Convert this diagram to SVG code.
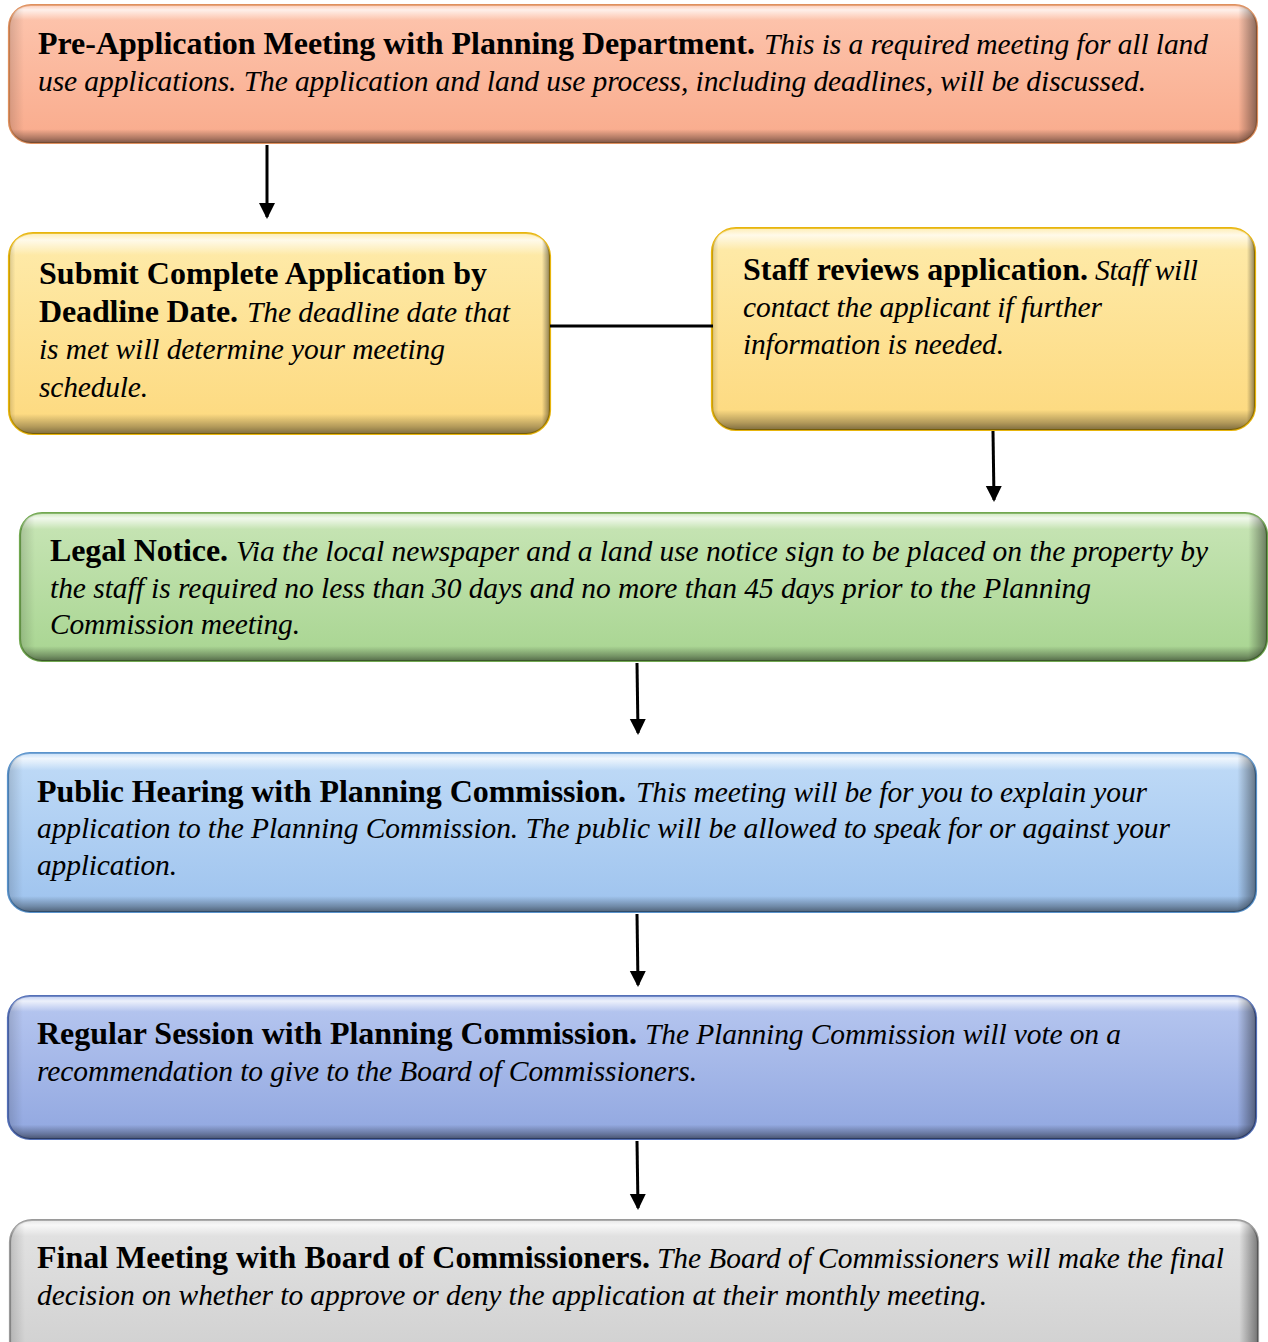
<svg xmlns="http://www.w3.org/2000/svg" width="1268" height="1342" viewBox="0 0 1268 1342">
<style>
text{font-family:"Liberation Serif","Times New Roman",serif;fill:#000}
.b{font-weight:bold;font-size:32px}
.i{font-style:italic;font-size:29.5px}
.box{stroke-width:2.2}
.bev{stroke:none}
.con{stroke:#000;stroke-width:3;fill:none}
</style>
<defs>
<linearGradient id="g1" x1="0" y1="0" x2="0" y2="1"><stop offset="0" stop-color="#fdc5ae"/><stop offset="1" stop-color="#f9ab8c"/></linearGradient>
<linearGradient id="g2" x1="0" y1="0" x2="0" y2="1"><stop offset="0" stop-color="#feebab"/><stop offset="1" stop-color="#fdd97e"/></linearGradient>
<linearGradient id="g4" x1="0" y1="0" x2="0" y2="1"><stop offset="0" stop-color="#c8e5b6"/><stop offset="1" stop-color="#a8d591"/></linearGradient>
<linearGradient id="g5" x1="0" y1="0" x2="0" y2="1"><stop offset="0" stop-color="#c0dbf7"/><stop offset="1" stop-color="#9ec3ee"/></linearGradient>
<linearGradient id="g6" x1="0" y1="0" x2="0" y2="1"><stop offset="0" stop-color="#b7c7f0"/><stop offset="1" stop-color="#91a7e0"/></linearGradient>
<linearGradient id="g7" x1="0" y1="0" x2="0" y2="1"><stop offset="0" stop-color="#e3e3e3"/><stop offset="1" stop-color="#cfcfcf"/></linearGradient>
<linearGradient id="bv" x1="0" y1="0" x2="0" y2="1">
<stop offset="0" stop-color="#fff" stop-opacity="0.1"/>
<stop offset="0.035" stop-color="#fff" stop-opacity="0.75"/>
<stop offset="0.11" stop-color="#fff" stop-opacity="0"/>
<stop offset="0.9" stop-color="#000" stop-opacity="0"/>
<stop offset="0.965" stop-color="#000" stop-opacity="0.3"/>
<stop offset="1" stop-color="#000" stop-opacity="0.5"/>
</linearGradient>
<linearGradient id="bh" x1="0" y1="0" x2="1" y2="0">
<stop offset="0" stop-color="#000" stop-opacity="0.15"/>
<stop offset="0.012" stop-color="#000" stop-opacity="0"/>
<stop offset="0.985" stop-color="#000" stop-opacity="0"/>
<stop offset="1" stop-color="#000" stop-opacity="0.45"/>
</linearGradient>
<marker id="ah" markerUnits="userSpaceOnUse" markerWidth="18" markerHeight="18" refX="14" refY="8" orient="auto">
<path d="M0,0 L16,8 L0,16 z" fill="#000"/>
</marker>
</defs>

<g id="n1">
<rect class="box" x="9" y="5" width="1248" height="138" rx="22" fill="url(#g1)" stroke="#e0905e"/>
<rect class="bev" x="9" y="5" width="1248" height="138" rx="22" fill="url(#bv)"/>
<rect class="bev" x="9" y="5" width="1248" height="138" rx="22" fill="url(#bh)"/>
<text class="b" x="38" y="54" textLength="717">Pre-Application Meeting with Planning Department.</text>
<text class="i" x="764" y="54" textLength="444">This is a required meeting for all land</text>
<text class="i" x="38" y="91" textLength="1108">use applications. The application and land use process, including deadlines, will be discussed.</text>
</g>

<g id="n2">
<rect class="box" x="9" y="233" width="541" height="201" rx="24" fill="url(#g2)" stroke="#e8b50c"/>
<rect class="bev" x="9" y="233" width="541" height="201" rx="24" fill="url(#bv)"/>
<rect class="bev" x="9" y="233" width="541" height="201" rx="24" fill="url(#bh)"/>
<text class="b" x="39" y="284" textLength="448">Submit Complete Application by</text>
<text class="b" x="39" y="322" textLength="199">Deadline Date.</text>
<text class="i" x="247" y="322" textLength="263">The deadline date that</text>
<text class="i" x="39" y="359" textLength="406">is met will determine your meeting</text>
<text class="i" x="39" y="397" textLength="109">schedule.</text>
</g>

<g id="n3">
<rect class="box" x="712" y="228" width="543" height="202" rx="24" fill="url(#g2)" stroke="#e8b50c"/>
<rect class="bev" x="712" y="228" width="543" height="202" rx="24" fill="url(#bv)"/>
<rect class="bev" x="712" y="228" width="543" height="202" rx="24" fill="url(#bh)"/>
<text class="b" x="743" y="280" textLength="345">Staff reviews application.</text>
<text class="i" x="1095" y="280" textLength="103">Staff will</text>
<text class="i" x="743" y="317" textLength="359">contact the applicant if further</text>
<text class="i" x="743" y="354" textLength="261">information is needed.</text>
</g>

<g id="n4">
<rect class="box" x="20" y="513" width="1247" height="148" rx="22" fill="url(#g4)" stroke="#71a850"/>
<rect class="bev" x="20" y="513" width="1247" height="148" rx="22" fill="url(#bv)"/>
<rect class="bev" x="20" y="513" width="1247" height="148" rx="22" fill="url(#bh)"/>
<text class="b" x="50" y="561" textLength="178">Legal Notice.</text>
<text class="i" x="236" y="561" textLength="972">Via the local newspaper and a land use notice sign to be placed on the property by</text>
<text class="i" x="50" y="598" textLength="1041">the staff is required no less than 30 days and no more than 45 days prior to the Planning</text>
<text class="i" x="50" y="634" textLength="250">Commission meeting.</text>
</g>

<g id="n5">
<rect class="box" x="8" y="753" width="1248" height="159" rx="22" fill="url(#g5)" stroke="#5a93cc"/>
<rect class="bev" x="8" y="753" width="1248" height="159" rx="22" fill="url(#bv)"/>
<rect class="bev" x="8" y="753" width="1248" height="159" rx="22" fill="url(#bh)"/>
<text class="b" x="37" y="802" textLength="589">Public Hearing with Planning Commission.</text>
<text class="i" x="636" y="802" textLength="511">This meeting will be for you to explain your</text>
<text class="i" x="37" y="838" textLength="1133">application to the Planning Commission. The public will be allowed to speak for or against your</text>
<text class="i" x="37" y="875" textLength="140">application.</text>
</g>

<g id="n6">
<rect class="box" x="8" y="996" width="1248" height="143" rx="22" fill="url(#g6)" stroke="#5470b8"/>
<rect class="bev" x="8" y="996" width="1248" height="143" rx="22" fill="url(#bv)"/>
<rect class="bev" x="8" y="996" width="1248" height="143" rx="22" fill="url(#bh)"/>
<text class="b" x="37" y="1044" textLength="600">Regular Session with Planning Commission.</text>
<text class="i" x="645" y="1044" textLength="476">The Planning Commission will vote on a</text>
<text class="i" x="37" y="1081" textLength="660">recommendation to give to the Board of Commissioners.</text>
</g>

<g id="n7">
<rect class="box" x="10" y="1220" width="1248" height="145" rx="22" fill="url(#g7)" stroke="#9a9a9a"/>
<rect class="bev" x="10" y="1220" width="1248" height="145" rx="22" fill="url(#bv)"/>
<rect class="bev" x="10" y="1220" width="1248" height="145" rx="22" fill="url(#bh)"/>
<text class="b" x="37" y="1268" textLength="613">Final Meeting with Board of Commissioners.</text>
<text class="i" x="657" y="1268" textLength="567">The Board of Commissioners will make the final</text>
<text class="i" x="37" y="1305" textLength="950">decision on whether to approve or deny the application at their monthly meeting.</text>
</g>

<g id="connectors">
<line class="con" x1="267" y1="145" x2="267" y2="217" marker-end="url(#ah)"/>
<line class="con" x1="550" y1="326" x2="713" y2="326"/>
<line class="con" x1="993" y1="431" x2="994" y2="500" marker-end="url(#ah)"/>
<line class="con" x1="637" y1="663" x2="638" y2="733" marker-end="url(#ah)"/>
<line class="con" x1="637" y1="914" x2="638" y2="985" marker-end="url(#ah)"/>
<line class="con" x1="637" y1="1141" x2="638" y2="1208" marker-end="url(#ah)"/>
</g>
</svg>
